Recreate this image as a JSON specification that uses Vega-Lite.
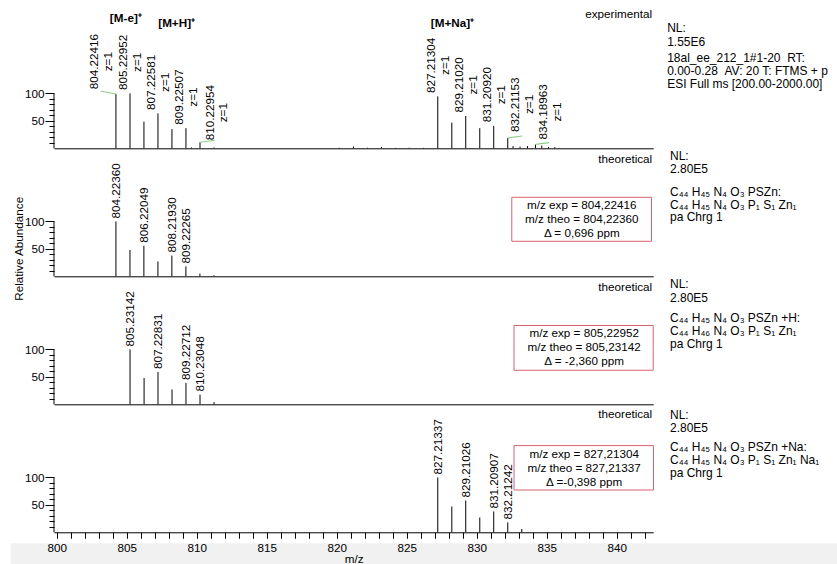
{
"$schema":"https://vega.github.io/schema/vega-lite/v6.json",
"background":"white",
"padding":{"left":10,"top":9,"right":0,"bottom":0},
"spacing":0,
"bounds":"flush",
"config":{"font":"Liberation Sans","view":{"stroke":null},
 "axis":{"grid":false,"labelFont":"Liberation Sans","titleFont":"Liberation Sans","labelColor":"#000","titleColor":"#000","tickColor":"#000","domainColor":"#000","labelFontSize":11.7,"titleFontSize":11.7,"titleFontWeight":"normal","labelOverlap":false,"labelFlush":false},
 "text":{"fontSize":11.7,"color":"#000"}},
"datasets":{
 "exp":[
  {"mz":804.22416,"intensity":99,"label":"804.22416","charge":"z=1"},
  {"mz":805.22952,"intensity":100,"label":"805.22952","charge":"z=1"},
  {"mz":806.2251,"intensity":48.6},
  {"mz":807.22581,"intensity":63.6,"label":"807.22581","charge":"z=1"},
  {"mz":808.2247,"intensity":35},
  {"mz":809.22507,"intensity":36.7,"label":"809.22507","charge":"z=1"},
  {"mz":809.62,"intensity":1.5},
  {"mz":810.22954,"intensity":11,"label":"810.22954","charge":"z=1"},
  {"mz":811.229,"intensity":1.5},
  {"mz":820.17,"intensity":1},
  {"mz":821.19,"intensity":3.5},
  {"mz":822.2,"intensity":1},
  {"mz":823.19,"intensity":2.5},
  {"mz":824.2,"intensity":0.8},
  {"mz":825.17,"intensity":1},
  {"mz":826.19,"intensity":0.8},
  {"mz":827.21304,"intensity":94.6,"label":"827.21304","charge":"z=1"},
  {"mz":828.2157,"intensity":46.8},
  {"mz":829.2102,"intensity":58.8,"label":"829.21020","charge":"z=1"},
  {"mz":830.2125,"intensity":36.7},
  {"mz":831.2092,"intensity":40.9,"label":"831.20920","charge":"z=1"},
  {"mz":832.21153,"intensity":18.8,"label":"832.21153","charge":"z=1"},
  {"mz":832.59,"intensity":4},
  {"mz":833.09,"intensity":3},
  {"mz":833.62,"intensity":4},
  {"mz":834.18963,"intensity":7,"label":"834.18963","charge":"z=1"},
  {"mz":834.64,"intensity":5},
  {"mz":835.12,"intensity":2.5},
  {"mz":835.57,"intensity":2}
 ],
 "t1":[
  {"mz":804.2236,"intensity":100,"label":"804.22360"},
  {"mz":805.227,"intensity":48},
  {"mz":806.22049,"intensity":55.7,"label":"806.22049"},
  {"mz":807.2238,"intensity":27},
  {"mz":808.2193,"intensity":37.7,"label":"808.21930"},
  {"mz":809.22265,"intensity":18,"label":"809.22265"},
  {"mz":810.2221,"intensity":5},
  {"mz":811.2232,"intensity":1.8}
 ],
 "t2":[
  {"mz":805.23142,"intensity":100,"label":"805.23142"},
  {"mz":806.2348,"intensity":48},
  {"mz":807.22831,"intensity":59,"label":"807.22831"},
  {"mz":808.2316,"intensity":27},
  {"mz":809.22712,"intensity":39,"label":"809.22712"},
  {"mz":810.23048,"intensity":17.7,"label":"810.23048"},
  {"mz":811.2305,"intensity":4}
 ],
 "t3":[
  {"mz":827.21337,"intensity":100,"label":"827.21337"},
  {"mz":828.2167,"intensity":47},
  {"mz":829.21026,"intensity":58,"label":"829.21026"},
  {"mz":830.2136,"intensity":27},
  {"mz":831.20907,"intensity":38,"label":"831.20907"},
  {"mz":832.21242,"intensity":18,"label":"832.21242"},
  {"mz":833.2145,"intensity":6}
 ]
},
"vconcat":[
{
 "width":599.2,"height":127.3,
 "resolve":{"axis":{"x":"independent","y":"independent"}},
 "layer":[
  {"data":{"name":"exp"},"mark":{"type":"rule","color":"#000","strokeWidth":1},
   "encoding":{
    "x":{"field":"mz","type":"quantitative","scale":{"domain":[799.8,842.6],"nice":false,"zero":false},"axis":{"orient":"bottom","title":null,"labels":false,"ticks":false,"domainColor":"#000","domainWidth":1}},
    "y":{"field":"intensity","type":"quantitative","scale":{"domain":[0,232],"nice":false,"zero":false},"axis":{"orient":"left","title":null,"domain":false,"values":[50,100],"tickSize":9,"labelPadding":1}},
    "y2":{"datum":0}}},
  {"data":{"values":[{}]},"mark":{"type":"rule","color":"#000","strokeWidth":1},
   "encoding":{"x":{"datum":799.8,"type":"quantitative","axis":null},"y":{"datum":0,"type":"quantitative","axis":{"orient":"left","title":null,"domain":false,"labels":false,"values":[10,20,30,40,60,70,80,90],"tickSize":5}},"y2":{"datum":100}}},
  {"data":{"name":"exp"},"transform":[{"filter":{"field":"label","oneOf":["805.22952","807.22581","809.22507","827.21304","829.21020","831.20920"]}}],
   "mark":{"type":"text","angle":270,"align":"left","baseline":"middle","dx":3.5,"dy":-6.8,"fontSize":11.7},
   "encoding":{"x":{"field":"mz","type":"quantitative","axis":null},"y":{"field":"intensity","type":"quantitative","axis":null},"text":{"field":"label"}}},
  {"data":{"name":"exp"},"transform":[{"filter":{"field":"label","oneOf":["805.22952","807.22581","809.22507","827.21304","829.21020","831.20920"]}}],
   "mark":{"type":"text","angle":270,"align":"left","baseline":"middle","dx":21.5,"dy":6.8,"fontSize":11.7},
   "encoding":{"x":{"field":"mz","type":"quantitative","axis":null},"y":{"field":"intensity","type":"quantitative","axis":null},"text":{"field":"charge"}}},

  {"data":{"name":"exp"},"transform":[{"filter":{"field":"label","equal":"804.22416"}}],
   "mark":{"type":"text","angle":270,"align":"left","baseline":"middle","dx":3.5,"dy":-6.8,"xOffset":-14.8,"yOffset":-1.2,"fontSize":11.7},
   "encoding":{"x":{"field":"mz","type":"quantitative","axis":null},"y":{"field":"intensity","type":"quantitative","axis":null},"text":{"field":"label"}}},
  {"data":{"name":"exp"},"transform":[{"filter":{"field":"label","equal":"804.22416"}}],
   "mark":{"type":"text","angle":270,"align":"left","baseline":"middle","dx":21.5,"dy":6.8,"xOffset":-14.8,"yOffset":-1.2,"fontSize":11.7},
   "encoding":{"x":{"field":"mz","type":"quantitative","axis":null},"y":{"field":"intensity","type":"quantitative","axis":null},"text":{"field":"charge"}}},
  {"data":{"name":"exp"},"transform":[{"filter":{"field":"label","equal":"804.22416"}}],
   "mark":{"type":"rule","color":"#8ccf8c","strokeWidth":1.2,"x2Offset":-15.3,"y2Offset":-3},
   "encoding":{"x":{"field":"mz","type":"quantitative","axis":null},"y":{"field":"intensity","type":"quantitative","axis":null},"x2":{"field":"mz"},"y2":{"field":"intensity"}}},

  {"data":{"name":"exp"},"transform":[{"filter":{"field":"label","equal":"810.22954"}}],
   "mark":{"type":"text","angle":270,"align":"left","baseline":"middle","dx":3.5,"dy":-6.8,"xOffset":16.3,"yOffset":1.5,"fontSize":11.7},
   "encoding":{"x":{"field":"mz","type":"quantitative","axis":null},"y":{"field":"intensity","type":"quantitative","axis":null},"text":{"field":"label"}}},
  {"data":{"name":"exp"},"transform":[{"filter":{"field":"label","equal":"810.22954"}}],
   "mark":{"type":"text","angle":270,"align":"left","baseline":"middle","dx":21.5,"dy":6.8,"xOffset":16.3,"yOffset":1.5,"fontSize":11.7},
   "encoding":{"x":{"field":"mz","type":"quantitative","axis":null},"y":{"field":"intensity","type":"quantitative","axis":null},"text":{"field":"charge"}}},
  {"data":{"name":"exp"},"transform":[{"filter":{"field":"label","equal":"810.22954"}}],
   "mark":{"type":"rule","color":"#8ccf8c","strokeWidth":1.2,"x2Offset":14.8,"y2Offset":-2},
   "encoding":{"x":{"field":"mz","type":"quantitative","axis":null},"y":{"field":"intensity","type":"quantitative","axis":null},"x2":{"field":"mz"},"y2":{"field":"intensity"}}},

  {"data":{"name":"exp"},"transform":[{"filter":{"field":"label","equal":"832.21153"}}],
   "mark":{"type":"text","angle":270,"align":"left","baseline":"middle","dx":3.5,"dy":-6.8,"xOffset":14.3,"yOffset":-2.5,"fontSize":11.7},
   "encoding":{"x":{"field":"mz","type":"quantitative","axis":null},"y":{"field":"intensity","type":"quantitative","axis":null},"text":{"field":"label"}}},
  {"data":{"name":"exp"},"transform":[{"filter":{"field":"label","equal":"832.21153"}}],
   "mark":{"type":"text","angle":270,"align":"left","baseline":"middle","dx":21.5,"dy":6.8,"xOffset":14.3,"yOffset":-2.5,"fontSize":11.7},
   "encoding":{"x":{"field":"mz","type":"quantitative","axis":null},"y":{"field":"intensity","type":"quantitative","axis":null},"text":{"field":"charge"}}},
  {"data":{"name":"exp"},"transform":[{"filter":{"field":"label","equal":"832.21153"}}],
   "mark":{"type":"rule","color":"#8ccf8c","strokeWidth":1.2,"x2Offset":14.7,"y2Offset":-2},
   "encoding":{"x":{"field":"mz","type":"quantitative","axis":null},"y":{"field":"intensity","type":"quantitative","axis":null},"x2":{"field":"mz"},"y2":{"field":"intensity"}}},

  {"data":{"name":"exp"},"transform":[{"filter":{"field":"label","equal":"834.18963"}}],
   "mark":{"type":"text","angle":270,"align":"left","baseline":"middle","dx":3.5,"dy":-6.8,"xOffset":14.5,"yOffset":-1.4,"fontSize":11.7},
   "encoding":{"x":{"field":"mz","type":"quantitative","axis":null},"y":{"field":"intensity","type":"quantitative","axis":null},"text":{"field":"label"}}},
  {"data":{"name":"exp"},"transform":[{"filter":{"field":"label","equal":"834.18963"}}],
   "mark":{"type":"text","angle":270,"align":"left","baseline":"middle","dx":21.5,"dy":6.8,"xOffset":14.5,"yOffset":-1.4,"fontSize":11.7},
   "encoding":{"x":{"field":"mz","type":"quantitative","axis":null},"y":{"field":"intensity","type":"quantitative","axis":null},"text":{"field":"charge"}}},
  {"data":{"name":"exp"},"transform":[{"filter":{"field":"label","equal":"834.18963"}}],
   "mark":{"type":"rule","color":"#8ccf8c","strokeWidth":1.2,"x2Offset":13.6,"y2Offset":-1.9},
   "encoding":{"x":{"field":"mz","type":"quantitative","axis":null},"y":{"field":"intensity","type":"quantitative","axis":null},"x2":{"field":"mz"},"y2":{"field":"intensity"}}},

  {"data":{"values":[{"t":"[M-e]⁺"}]},"mark":{"type":"text","align":"center","baseline":"middle","fontWeight":"bold","fontSize":11.7},
   "encoding":{"x":{"datum":804.93,"type":"quantitative","axis":null},"y":{"datum":236.9,"type":"quantitative","axis":null},"text":{"field":"t"}}},
  {"data":{"values":[{"t":"[M+H]⁺"}]},"mark":{"type":"text","align":"center","baseline":"middle","fontWeight":"bold","fontSize":11.7},
   "encoding":{"x":{"datum":808.56,"type":"quantitative","axis":null},"y":{"datum":228.7,"type":"quantitative","axis":null},"text":{"field":"t"}}},
  {"data":{"values":[{"t":"[M+Na]⁺"}]},"mark":{"type":"text","align":"center","baseline":"middle","fontWeight":"bold","fontSize":11.7},
   "encoding":{"x":{"datum":828.26,"type":"quantitative","axis":null},"y":{"datum":227.8,"type":"quantitative","axis":null},"text":{"field":"t"}}},
  {"data":{"values":[{"t":"experimental"}]},"mark":{"type":"text","align":"right","baseline":"middle","fontSize":11.7,"dx":-1},
   "encoding":{"x":{"datum":842.6,"type":"quantitative","axis":null},"y":{"datum":243.9,"type":"quantitative","axis":null},"text":{"field":"t"}}},
  {"data":{"values":[{"t":"NL:\n1.55E6"}]},"mark":{"type":"text","align":"left","baseline":"top","lineBreak":"\n","lineHeight":14,"fontSize":12},
   "encoding":{"x":{"datum":843.6,"type":"quantitative","axis":null},"y":{"datum":228.5,"type":"quantitative","axis":null},"text":{"field":"t"}}},
  {"data":{"values":[{"t":"18al_ee_212_1#1-20 \u00a0RT:\n0.00-0.28 \u00a0AV: 20 T: FTMS + p\nESI Full ms [200.00-2000.00]"}]},"mark":{"type":"text","align":"left","baseline":"top","lineBreak":"\n","lineHeight":13.3,"fontSize":12},
   "encoding":{"x":{"datum":843.6,"type":"quantitative","axis":null},"y":{"datum":174,"type":"quantitative","axis":null},"text":{"field":"t"}}}
 ]
},
{
 "width":599.2,"height":127.3,
 "resolve":{"axis":{"x":"independent","y":"independent"}},
 "layer":[
  {"data":{"name":"t1"},"mark":{"type":"rule","color":"#000","strokeWidth":1},
   "encoding":{
    "x":{"field":"mz","type":"quantitative","scale":{"domain":[799.8,842.6],"nice":false,"zero":false},"axis":{"orient":"bottom","title":null,"labels":false,"ticks":false,"domainColor":"#000","domainWidth":1}},
    "y":{"field":"intensity","type":"quantitative","scale":{"domain":[0,232],"nice":false,"zero":false},"axis":{"orient":"left","title":"Relative Abundance","titleX":-35,"titleY":99.3,"titleAngle":270,"titleAlign":"center","titleBaseline":"middle","domain":false,"values":[50,100],"tickSize":9,"labelPadding":1}},
    "y2":{"datum":0}}},
  {"data":{"values":[{}]},"mark":{"type":"rule","color":"#000","strokeWidth":1},
   "encoding":{"x":{"datum":799.8,"type":"quantitative","axis":null},"y":{"datum":0,"type":"quantitative","axis":{"orient":"left","title":null,"domain":false,"labels":false,"values":[10,20,30,40,60,70,80,90],"tickSize":5}},"y2":{"datum":100}}},
  {"data":{"name":"t1"},"transform":[{"filter":"isValid(datum.label)"}],
   "mark":{"type":"text","angle":270,"align":"left","baseline":"middle","dx":3,"fontSize":11.7},
   "encoding":{"x":{"field":"mz","type":"quantitative","axis":null},"y":{"field":"intensity","type":"quantitative","axis":null},"text":{"field":"label"}}},
  {"data":{"values":[{"t":"theoretical"}]},"mark":{"type":"text","align":"right","baseline":"middle","fontSize":11.7,"dx":-1},
   "encoding":{"x":{"datum":842.6,"type":"quantitative","axis":null},"y":{"datum":213,"type":"quantitative","axis":null},"text":{"field":"t"}}},
  {"data":{"values":[{"t":"NL:\n2.80E5"}]},"mark":{"type":"text","align":"left","baseline":"top","lineBreak":"\n","lineHeight":13.5,"fontSize":12},
   "encoding":{"x":{"datum":843.8,"type":"quantitative","axis":null},"y":{"datum":229,"type":"quantitative","axis":null},"text":{"field":"t"}}},
  {"data":{"values":[{"t":"C₄₄ H₄₅ N₄ O₃ PSZn:\nC₄₄ H₄₅ N₄ O₃ P₁ S₁ Zn₁\npa Chrg 1"}]},"mark":{"type":"text","align":"left","baseline":"top","lineBreak":"\n","lineHeight":12.7,"fontSize":12},
   "encoding":{"x":{"datum":843.8,"type":"quantitative","axis":null},"y":{"datum":163,"type":"quantitative","axis":null},"text":{"field":"t"}}},
  {"data":{"values":[{}]},"mark":{"type":"rect","filled":false,"stroke":"#d9606a","strokeWidth":1},
   "encoding":{"x":{"datum":832.5,"type":"quantitative","axis":null},"x2":{"datum":842.48},"y":{"datum":144,"type":"quantitative","axis":null},"y2":{"datum":63.8}}},
  {"data":{"values":[{"t":"m/z exp = 804,22416\nm/z theo = 804,22360\nΔ = 0,696 ppm"}]},"mark":{"type":"text","align":"center","baseline":"top","lineBreak":"\n","lineHeight":14.2,"fontSize":11.7},
   "encoding":{"x":{"datum":837.5,"type":"quantitative","axis":null},"y":{"datum":139.8,"type":"quantitative","axis":null},"text":{"field":"t"}}}
 ]
},
{
 "width":599.2,"height":127.3,
 "resolve":{"axis":{"x":"independent","y":"independent"}},
 "layer":[
  {"data":{"name":"t2"},"mark":{"type":"rule","color":"#000","strokeWidth":1},
   "encoding":{
    "x":{"field":"mz","type":"quantitative","scale":{"domain":[799.8,842.6],"nice":false,"zero":false},"axis":{"orient":"bottom","title":null,"labels":false,"ticks":false,"domainColor":"#000","domainWidth":1}},
    "y":{"field":"intensity","type":"quantitative","scale":{"domain":[0,232],"nice":false,"zero":false},"axis":{"orient":"left","title":null,"domain":false,"values":[50,100],"tickSize":9,"labelPadding":1}},
    "y2":{"datum":0}}},
  {"data":{"values":[{}]},"mark":{"type":"rule","color":"#000","strokeWidth":1},
   "encoding":{"x":{"datum":799.8,"type":"quantitative","axis":null},"y":{"datum":0,"type":"quantitative","axis":{"orient":"left","title":null,"domain":false,"labels":false,"values":[10,20,30,40,60,70,80,90],"tickSize":5}},"y2":{"datum":100}}},
  {"data":{"name":"t2"},"transform":[{"filter":"isValid(datum.label)"}],
   "mark":{"type":"text","angle":270,"align":"left","baseline":"middle","dx":3,"fontSize":11.7},
   "encoding":{"x":{"field":"mz","type":"quantitative","axis":null},"y":{"field":"intensity","type":"quantitative","axis":null},"text":{"field":"label"}}},
  {"data":{"values":[{"t":"theoretical"}]},"mark":{"type":"text","align":"right","baseline":"middle","fontSize":11.7,"dx":-1},
   "encoding":{"x":{"datum":842.6,"type":"quantitative","axis":null},"y":{"datum":213,"type":"quantitative","axis":null},"text":{"field":"t"}}},
  {"data":{"values":[{"t":"NL:\n2.80E5"}]},"mark":{"type":"text","align":"left","baseline":"top","lineBreak":"\n","lineHeight":13.5,"fontSize":12},
   "encoding":{"x":{"datum":843.8,"type":"quantitative","axis":null},"y":{"datum":228,"type":"quantitative","axis":null},"text":{"field":"t"}}},
  {"data":{"values":[{"t":"C₄₄ H₄₅ N₄ O₃ PSZn +H:\nC₄₄ H₄₆ N₄ O₃ P₁ S₁ Zn₁\npa Chrg 1"}]},"mark":{"type":"text","align":"left","baseline":"top","lineBreak":"\n","lineHeight":12.7,"fontSize":12},
   "encoding":{"x":{"datum":843.8,"type":"quantitative","axis":null},"y":{"datum":166,"type":"quantitative","axis":null},"text":{"field":"t"}}},
  {"data":{"values":[{}]},"mark":{"type":"rect","filled":false,"stroke":"#d9606a","strokeWidth":1},
   "encoding":{"x":{"datum":832.66,"type":"quantitative","axis":null},"x2":{"datum":842.6},"y":{"datum":143.6,"type":"quantitative","axis":null},"y2":{"datum":62}}},
  {"data":{"values":[{"t":"m/z exp = 805,22952\nm/z theo = 805,23142\nΔ = -2,360 ppm"}]},"mark":{"type":"text","align":"center","baseline":"top","lineBreak":"\n","lineHeight":14.2,"fontSize":11.7},
   "encoding":{"x":{"datum":837.67,"type":"quantitative","axis":null},"y":{"datum":139,"type":"quantitative","axis":null},"text":{"field":"t"}}}
 ]
},
{
 "width":599.2,"height":127.3,
 "resolve":{"axis":{"x":"independent","y":"independent"}},
 "layer":[
  {"data":{"name":"t3"},"mark":{"type":"rule","color":"#000","strokeWidth":1},
   "encoding":{
    "x":{"field":"mz","type":"quantitative","scale":{"domain":[799.8,842.6],"nice":false,"zero":false},"axis":{"orient":"bottom","title":"m/z","values":[800,805,810,815,820,825,830,835,840],"tickSize":6,"labelPadding":4,"titlePadding":0,"zindex":1,"domainColor":"#000","domainWidth":1}},
    "y":{"field":"intensity","type":"quantitative","scale":{"domain":[0,232],"nice":false,"zero":false},"axis":{"orient":"left","title":null,"domain":false,"values":[50,100],"tickSize":9,"labelPadding":1}},
    "y2":{"datum":0}}},
  {"data":{"values":[{}]},"mark":{"type":"rect","color":"#f1f1f1"},
   "encoding":{"x":{"datum":796.7,"type":"quantitative","axis":null},"x2":{"datum":855.8},"y":{"datum":-20,"type":"quantitative","axis":null},"y2":{"datum":-62}}},
  {"data":{"values":[{}]},"mark":{"type":"rule","color":"#000","strokeWidth":1},
   "encoding":{"x":{"datum":799.8,"type":"quantitative","axis":{"orient":"bottom","title":null,"labels":false,"domain":false,"values":[801,802,803,804,806,807,808,809,811,812,813,814,816,817,818,819,821,822,823,824,826,827,828,829,831,832,833,834,836,837,838,839,841,842],"tickSize":6,"zindex":1}},"y":{"datum":0,"type":"quantitative","axis":{"orient":"left","title":null,"domain":false,"labels":false,"values":[10,20,30,40,60,70,80,90],"tickSize":5}},"y2":{"datum":100}}},
  {"data":{"name":"t3"},"transform":[{"filter":"isValid(datum.label)"}],
   "mark":{"type":"text","angle":270,"align":"left","baseline":"middle","dx":3,"fontSize":11.7},
   "encoding":{"x":{"field":"mz","type":"quantitative","axis":null},"y":{"field":"intensity","type":"quantitative","axis":null},"text":{"field":"label"}}},
  {"data":{"values":[{"t":"theoretical"}]},"mark":{"type":"text","align":"right","baseline":"middle","fontSize":11.7,"dx":-1},
   "encoding":{"x":{"datum":842.6,"type":"quantitative","axis":null},"y":{"datum":215,"type":"quantitative","axis":null},"text":{"field":"t"}}},
  {"data":{"values":[{"t":"NL:\n2.80E5"}]},"mark":{"type":"text","align":"left","baseline":"top","lineBreak":"\n","lineHeight":13.5,"fontSize":12},
   "encoding":{"x":{"datum":843.8,"type":"quantitative","axis":null},"y":{"datum":223,"type":"quantitative","axis":null},"text":{"field":"t"}}},
  {"data":{"values":[{"t":"C₄₄ H₄₅ N₄ O₃ PSZn +Na:\nC₄₄ H₄₅ N₄ O₃ P₁ S₁ Zn₁ Na₁\npa Chrg 1"}]},"mark":{"type":"text","align":"left","baseline":"top","lineBreak":"\n","lineHeight":12.7,"fontSize":12},
   "encoding":{"x":{"datum":843.8,"type":"quantitative","axis":null},"y":{"datum":164,"type":"quantitative","axis":null},"text":{"field":"t"}}},
  {"data":{"values":[{}]},"mark":{"type":"rect","filled":false,"stroke":"#d9606a","strokeWidth":1},
   "encoding":{"x":{"datum":832.66,"type":"quantitative","axis":null},"x2":{"datum":842.62},"y":{"datum":158,"type":"quantitative","axis":null},"y2":{"datum":77.1}}},
  {"data":{"values":[{"t":"m/z exp = 827,21304\nm/z theo = 827,21337\nΔ =-0,398 ppm"}]},"mark":{"type":"text","align":"center","baseline":"top","lineBreak":"\n","lineHeight":14.2,"fontSize":11.7},
   "encoding":{"x":{"datum":837.67,"type":"quantitative","axis":null},"y":{"datum":151.8,"type":"quantitative","axis":null},"text":{"field":"t"}}}
 ]
}
]
}
